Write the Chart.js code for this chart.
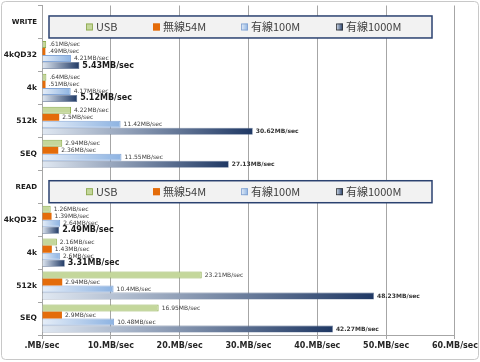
<!DOCTYPE html>
<html lang="ja">
<head>
<meta charset="UTF-8">
<title>転送速度</title>
<script src="https://cdn.jsdelivr.net/npm/chart.js@4.4.1/dist/chart.umd.min.js"></script>
<style>
  body { margin: 0; background: #fff; }
  #wrap { width: 480px; height: 362px; }
</style>
</head>
<body>
<div id="wrap"><canvas id="myChart" width="480" height="362"></canvas></div>
<script>
// rows: WRITE / READ are the header rows that hold the legend box
const categories = ['WRITE', '4kQD32', '4k', '512k', 'SEQ', 'READ', '4kQD32', '4k', '512k', 'SEQ'];
const seriesNames = ['USB', '無線54M', '有線100M', '有線1000M'];
const usb        = [null, 0.61, 0.64, 4.22, 2.94, null, 1.26, 2.16, 23.21, 16.95];
const wireless54 = [null, 0.49, 0.51, 2.5, 2.36, null, 1.39, 1.43, 2.94, 2.9];
const wired100   = [null, 4.21, 4.17, 11.42, 11.55, null, 2.64, 2.6, 10.4, 10.48];
const wired1000  = [null, 5.43, 5.12, 30.62, 27.13, null, 2.49, 3.31, 48.23, 42.27];
const xTickLabels = ['.MB/sec', '10.MB/sec', '20.MB/sec', '30.MB/sec', '40.MB/sec', '50.MB/sec', '60.MB/sec'];
const headerRows = [0, 5];

function fmt(v) {
    let s = String(v);
    if (v < 1) s = s.slice(1);
    return s + 'MB/sec';
}

// gradient running from the axis to the end of each bar
function barGradient(from, to) {
    return (ctx) => {
        const chart = ctx.chart;
        if (!chart.chartArea || ctx.raw == null) return to;
        const x0 = chart.scales.x.getPixelForValue(0);
        const x1 = chart.scales.x.getPixelForValue(ctx.raw);
        const g = chart.ctx.createLinearGradient(x0, 0, Math.max(x1, x0 + 1), 0);
        g.addColorStop(0, from);
        g.addColorStop(1, to);
        return g;
    };
}

const frame = {
    id: 'frame',
    beforeDraw(chart) {
        const c = chart.ctx;
        c.save();
        c.fillStyle = '#fff';
        c.fillRect(0, 0, chart.width, chart.height);
        c.strokeStyle = '#c8c8c8';
        c.lineWidth = 1;
        c.beginPath();
        c.roundRect(1.5, 1.5, chart.width - 3, chart.height - 4, 4);
        c.stroke();
        c.restore();
    }
};

const barLabels = {
    id: 'barLabels',
    afterDatasetsDraw(chart) {
        const c = chart.ctx;
        c.save();
        c.textBaseline = 'middle';
        c.textAlign = 'left';
        chart.data.datasets.forEach((ds, di) => {
            chart.getDatasetMeta(di).data.forEach((bar, i) => {
                const v = ds.data[i];
                if (v == null) return;
                if (di === 3 && v < 10) {
                    c.font = 'bold 8px "DejaVu Sans"';
                    c.fillStyle = '#1a1a1a';
                } else if (di === 3) {
                    c.font = 'bold 6px "DejaVu Sans"';
                    c.fillStyle = '#333';
                } else {
                    c.font = '6px "DejaVu Sans"';
                    c.fillStyle = '#404040';
                }
                c.fillText(fmt(v), bar.x + 3, bar.y);
            });
        });
        c.restore();
    }
};

const swatches = [
    { fill: '#c4d79b', stroke: '#8aa64d' },
    { fill: '#e46c0a', stroke: '#e46c0a' },
    { fill: ['#e6eef8', '#8db3e2'], stroke: '#7f9fcf' },
    { fill: ['#dce6f2', '#1f3864'], stroke: '#333' }
];
const legendBoxes = {
    id: 'legendBoxes',
    afterDatasetsDraw(chart) {
        const c = chart.ctx;
        const y = chart.scales.y;
        const left = 49, right = 432;
        const offs = [37, 104, 192, 287];
        headerRows.forEach(row => {
            const yc = y.getPixelForValue(row) + 5;
            c.save();
            c.fillStyle = '#f2f2f2';
            c.strokeStyle = '#2b4270';
            c.lineWidth = 1.5;
            c.fillRect(left, yc - 11, right - left, 22);
            c.strokeRect(left, yc - 11, right - left, 22);
            seriesNames.forEach((name, k) => {
                const sx = left + offs[k];
                const s = swatches[k];
                if (Array.isArray(s.fill)) {
                    const g = c.createLinearGradient(sx, 0, sx + 7, 0);
                    g.addColorStop(0, s.fill[0]);
                    g.addColorStop(1, s.fill[1]);
                    c.fillStyle = g;
                } else {
                    c.fillStyle = s.fill;
                }
                c.fillRect(sx, yc - 3.5, 7, 7);
                c.strokeStyle = s.stroke;
                c.lineWidth = 0.8;
                c.strokeRect(sx + 0.5, yc - 3, 6, 6);
                c.fillStyle = '#404040';
                c.font = '11px "Noto Sans CJK JP"';
                c.textBaseline = 'middle';
                c.fillText(name, sx + 10, yc);
            });
            c.restore();
        });
    }
};

const ctx = document.getElementById('myChart').getContext('2d');
const myChart = new Chart(ctx, {
    type: 'bar',
    data: {
        labels: categories,
        datasets: [{
            label: seriesNames[0],
            data: usb,
            backgroundColor: '#c4d79b',
            borderColor: '#8fae50',
            borderWidth: 1
        }, {
            label: seriesNames[1],
            data: wireless54,
            backgroundColor: '#e46c0a',
            borderColor: '#e46c0a',
            borderWidth: 0
        }, {
            label: seriesNames[2],
            data: wired100,
            backgroundColor: barGradient('#e6eef8', '#8db3e2'),
            borderColor: '#86a8d8',
            borderWidth: 1
        }, {
            label: seriesNames[3],
            data: wired1000,
            backgroundColor: barGradient('#e0e8f2', '#1f3864'),
            borderColor: '#5d7091',
            borderWidth: 0.6
        }]
    },
    options: {
        indexAxis: 'y',
        responsive: false,
        animation: false,
        categoryPercentage: 0.85,
        barPercentage: 1.0,
        layout: { padding: { top: 2, right: 25, left: 0, bottom: 0 } },
        plugins: {
            legend: { display: false },
            tooltip: { enabled: false }
        },
        scales: {
            x: {
                min: 0,
                max: 60,
                afterFit: (s) => { s.height = 27; },
                ticks: {
                    stepSize: 10,
                    padding: 2,
                    color: '#262626',
                    font: { family: 'DejaVu Sans', weight: 'bold', size: 8 },
                    callback: (v, i) => xTickLabels[i]
                },
                grid: { color: '#a6a6a6', tickLength: 4 },
                border: { color: '#a6a6a6' }
            },
            y: {
                afterFit: (s) => { s.width = 42; },
                ticks: {
                    padding: 1,
                    color: '#1a1a1a',
                    font: (c) => ({
                        family: 'DejaVu Sans',
                        weight: 'bold',
                        size: headerRows.includes(c.index) ? 7 : 7.5
                    })
                },
                grid: { offset: true, drawOnChartArea: false, color: '#a6a6a6', tickLength: 4 },
                border: { color: '#a6a6a6' }
            }
        }
    },
    plugins: [frame, legendBoxes, barLabels]
});
</script>
</body>
</html>
